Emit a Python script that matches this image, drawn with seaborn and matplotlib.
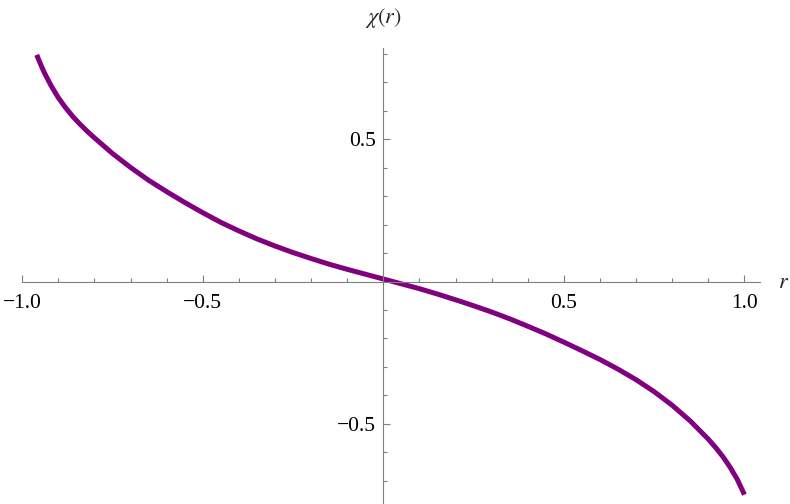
import matplotlib
matplotlib.use("Agg")
import matplotlib.pyplot as plt
import seaborn as sns
from matplotlib.ticker import FixedLocator, FuncFormatter

# values
r_vals = [-0.96, -0.95, -0.94, -0.92, -0.90, -0.88, -0.86, -0.84, -0.82, -0.80,
          -0.75, -0.70, -0.65, -0.60, -0.55, -0.50, -0.45, -0.40, -0.35, -0.30,
          -0.25, -0.20, -0.15, -0.10, -0.05, 0.00, 0.05, 0.10, 0.15, 0.20,
          0.25, 0.30, 0.35, 0.40, 0.45, 0.50, 0.55, 0.60, 0.65, 0.70,
          0.75, 0.80, 0.85, 0.90, 0.92, 0.94, 0.96, 0.98, 1.00]
chi_vals = [0.797, 0.766, 0.737, 0.688, 0.646, 0.611, 0.580, 0.553, 0.528, 0.505,
            0.450, 0.401, 0.356, 0.316, 0.278, 0.242, 0.208, 0.178, 0.150, 0.125,
            0.102, 0.081, 0.061, 0.043, 0.026, 0.009, -0.008, -0.025, -0.044, -0.064,
            -0.085, -0.107, -0.131, -0.157, -0.184, -0.213, -0.243, -0.274, -0.308, -0.345,
            -0.387, -0.435, -0.490, -0.554, -0.583, -0.615, -0.652, -0.695, -0.749]

x_major = [-1.0, -0.5, 0.5, 1.0]
x_minor = [-0.9, -0.8, -0.7, -0.6, -0.4, -0.3, -0.2, -0.1,
           0.1, 0.2, 0.3, 0.4, 0.6, 0.7, 0.8, 0.9]
y_major = [-0.5, 0.5]
y_minor = [-0.7, -0.6, -0.4, -0.3, -0.2, -0.1, 0.1, 0.2, 0.3, 0.4, 0.6, 0.7, 0.8]

sns.set_theme(style="white")
plt.rcParams['font.family'] = ['Liberation Serif', 'DejaVu Serif']
plt.rcParams['mathtext.fontset'] = 'stix'

axis_gray = '#7f7f7f'

fig = plt.figure(figsize=(7.9, 5.04), dpi=100)
ax = fig.add_axes([0.0282, 0.001, 0.9338, 0.9032])

sns.lineplot(x=r_vals, y=chi_vals, ax=ax, color='#800080', linewidth=3.6,
             solid_capstyle='butt', solid_joinstyle='round', sort=False)

ax.set_xlim(-1.0, 1.043)
ax.set_ylim(-0.78, 0.82)

# Mathematica-style axes through the origin
for side in ['top', 'right']:
    ax.spines[side].set_visible(False)
for side in ['left', 'bottom']:
    ax.spines[side].set_position(('data', 0))
    ax.spines[side].set_color(axis_gray)
    ax.spines[side].set_linewidth(0.8)

ax.xaxis.set_major_locator(FixedLocator(x_major))
ax.xaxis.set_minor_locator(FixedLocator(x_minor))
ax.yaxis.set_major_locator(FixedLocator(y_major))
ax.yaxis.set_minor_locator(FixedLocator(y_minor))
fmt = FuncFormatter(lambda v, pos: f"{v:.1f}".replace('-', '\u2212'))
ax.xaxis.set_major_formatter(fmt)
ax.yaxis.set_major_formatter(fmt)

ax.tick_params(axis='both', which='both', direction='in', color=axis_gray,
               width=0.8, labelsize=15.5, labelcolor='black',
               bottom=True, left=True, top=False, right=False)
ax.tick_params(axis='both', which='major', length=4.8)
ax.tick_params(axis='both', which='minor', length=2.9)
ax.tick_params(axis='x', which='major', pad=9)
ax.tick_params(axis='y', which='major', pad=5.5)

fig.text(784 / 790, 1 - 284 / 504, r'$r$', ha='center', va='center', fontsize=16)
fig.text(383 / 790, 1 - 18 / 504, r'$\chi(r)$', ha='center', va='center', fontsize=16)

ax.grid(False)
fig.savefig('out.png', dpi=100)
plt.close(fig)
